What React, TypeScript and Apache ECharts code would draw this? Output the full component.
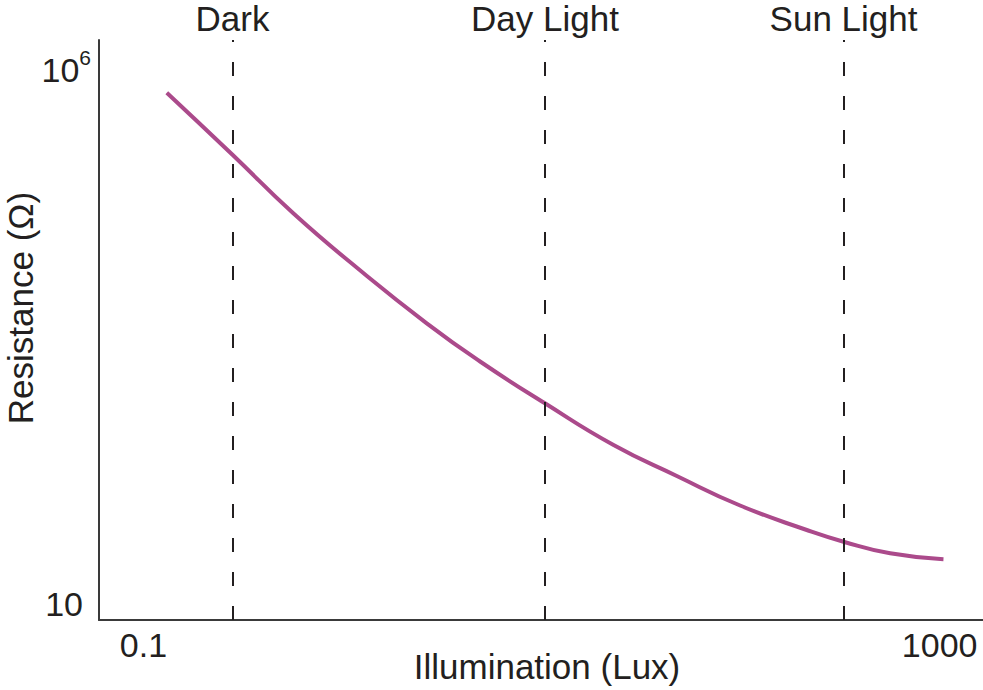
import { useEffect, useRef } from 'react'
import * as echarts from 'echarts'

// curve: illumination (lux) vs resistance (ohm)
const illumination = [0.131, 0.281, 0.564, 1.22, 2.65, 4.91, 10.4, 23.0, 47.8, 99.4, 215, 329, 564, 1045]
const resistance = [613000, 160000, 45800, 13400, 4250, 1865, 757, 308, 158, 83.6, 49.3, 38.3, 29.8, 26.2]

// vertical reference lines
const markerNames = ['Dark', 'Day Light', 'Sun Light']
const markerLux = [0.279, 10.4, 329]

// tick labels shown on each axis
const xTicks = [0.1, 1000]
const yTicks = [10, 1000000]

const ink = '#231f20'
const font = 'Liberation Sans, Arial, Helvetica, sans-serif'

export default function App() {
  const chartRef = useRef<HTMLDivElement>(null)

  useEffect(() => {
    if (!chartRef.current) return
    const chart = echarts.init(chartRef.current, undefined, { renderer: 'svg' })

    const option: echarts.EChartsOption = {
      animation: false,
      backgroundColor: '#fff',
      textStyle: { fontFamily: font, color: ink },
      grid: {
        left: 99,
        right: 0,
        top: 40,
        bottom: 70,
        containLabel: false,
        outerBoundsMode: 'none',
      } as any,
      xAxis: {
        type: 'log',
        min: 0.0598,
        max: 1651,
        name: 'Illumination (Lux)',
        nameLocation: 'middle',
        nameGap: 30,
        nameMoveOverlap: false,
        nameTextStyle: {
          fontSize: 35,
          lineHeight: 32,
          color: ink,
          fontFamily: font,
          padding: [0, 0, 0, 12],
        },
        axisLine: { lineStyle: { color: '#3a3a3a', width: 2 } },
        axisTick: { show: false },
        splitLine: { show: false },
        axisLabel: {
          customValues: xTicks,
          margin: 8,
          fontSize: 34,
          color: ink,
          fontFamily: font,
          formatter: (v: number) => (v < 1 ? '0.1' : String(Math.round(v))),
        },
      } as any,
      yAxis: {
        type: 'log',
        min: 7.08,
        max: 1910000,
        name: 'Resistance (Ω)',
        nameLocation: 'middle',
        nameGap: 66,
        nameMoveOverlap: false,
        nameTextStyle: {
          fontSize: 35,
          lineHeight: 26,
          color: ink,
          fontFamily: font,
          padding: [0, 0, 0, 44],
        },
        axisLine: { lineStyle: { color: '#3a3a3a', width: 2 } },
        axisTick: { show: false },
        splitLine: { show: false },
        axisLabel: {
          customValues: yTicks,
          margin: 8,
          color: ink,
          fontFamily: font,
          formatter: (v: number) => {
            const e = Math.round(Math.log10(v))
            return e > 1 ? '{b|10}{sup|' + e + '}' : '{n|10}'
          },
          rich: {
            b: { fontSize: 34, lineHeight: 46, color: ink, fontFamily: font },
            sup: { fontSize: 21, lineHeight: 21, verticalAlign: 'top', color: ink, fontFamily: font },
            n: { fontSize: 34, color: ink, fontFamily: font, padding: [0, 8, 0, 0] },
          },
        },
      } as any,
      series: [
        {
          type: 'line',
          smooth: true,
          symbol: 'none',
          lineStyle: { color: '#ab4a8b', width: 4 },
          data: illumination.map((x, i) => [x, resistance[i]]),
          markLine: {
            silent: true,
            symbol: 'none',
            lineStyle: { color: ink, width: 2, type: [14, 20] },
            label: {
              position: 'end',
              formatter: '{b}',
              fontSize: 35,
              lineHeight: 26,
              color: ink,
              fontFamily: font,
              distance: 9,
            },
            data: markerNames.map((name, i) => ({ name, xAxis: markerLux[i] })),
          },
        },
      ],
    }

    chart.setOption(option)
    return () => chart.dispose()
  }, [])

  return (
    <div
      ref={chartRef}
      style={{ position: 'fixed', left: 0, top: 0, width: 983, height: 690 }}
    />
  )
}
